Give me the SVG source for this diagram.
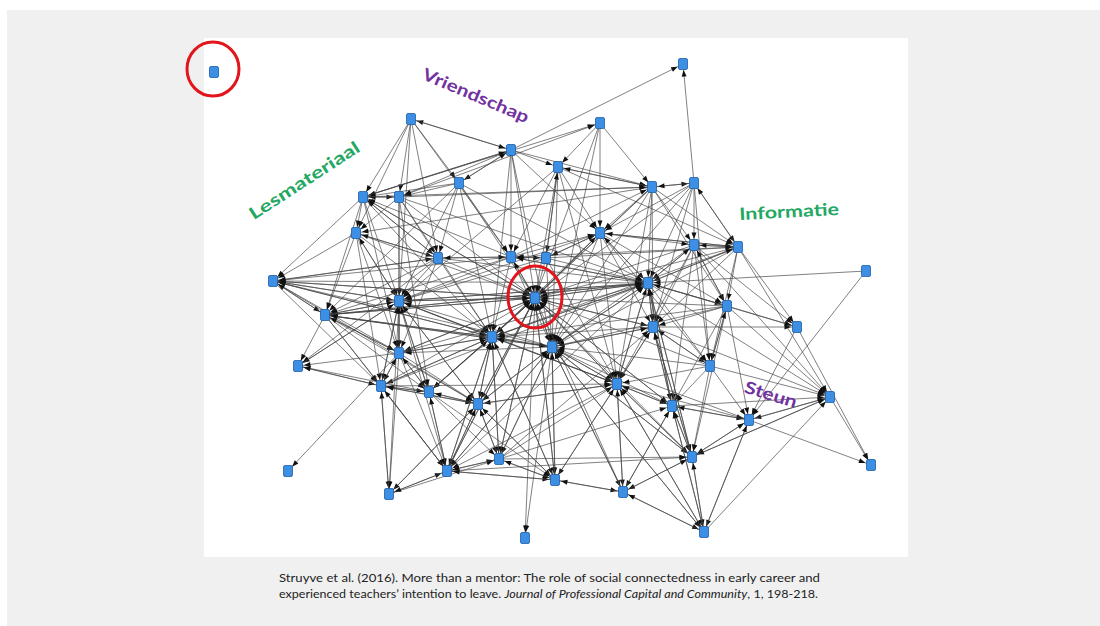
<svg xmlns="http://www.w3.org/2000/svg" width="1100" height="626" viewBox="0 0 1100 626">
  <style>
    .page{fill:#f0f0f0}
    .panel{fill:#ffffff}
    .e path{stroke:#454545;stroke-width:.68;fill:none;marker-end:url(#arr)}
    .n rect{fill:#3d8fe4;stroke:#1d5ea8;stroke-width:.8}
    .ring{fill:none;stroke:#e2151c;stroke-width:3}
    .lbl{font-family:Lato,"Open Sans","Liberation Sans",sans-serif;font-weight:bold;font-size:17px;text-anchor:middle;dominant-baseline:central}
    .green{fill:#22a862}
    .purple{fill:#7131a0}
    .cap{font-family:Lato,"Liberation Sans",sans-serif;font-size:11.5px;fill:#222}
  </style>
  <defs>
    <!-- arrowhead stops short of the node centre so it sits at the node edge -->
    <marker id="arr" markerUnits="userSpaceOnUse" markerWidth="14" markerHeight="6" refX="12.5" refY="2.5" orient="auto" overflow="visible">
      <path d="M0,0 L6.5,2.5 L0,5 z" fill="#111"/>
    </marker>
  </defs>

  <rect class="page" x="7" y="10" width="1093" height="616"/>
  <rect class="panel" x="204" y="38" width="704" height="519"/>

  <g id="connectors" class="e">
    <path d="M511 150L683 64"/><path d="M694 183L683 64"/>
    <path d="M511 150L411 119"/><path d="M411 119L511 150"/><path d="M411 119L363 197"/><path d="M411 119L399 197"/><path d="M411 119L399 301"/><path d="M411 119L459 183"/><path d="M411 119L511 257"/><path d="M411 119L438 258"/><path d="M411 119L356 233"/>
    <path d="M600 123L600 233"/><path d="M600 123L558 167"/><path d="M600 123L652 187"/><path d="M363 197L600 123"/><path d="M399 197L600 123"/><path d="M600 123L552 347"/><path d="M600 123L535 298"/>
    <path d="M511 150L558 167"/><path d="M511 150L652 187"/><path d="M511 150L363 197"/><path d="M511 150L399 197"/><path d="M511 150L459 183"/><path d="M511 150L511 257"/><path d="M511 150L600 233"/><path d="M511 150L492 337"/><path d="M511 150L552 347"/><path d="M511 150L535 298"/><path d="M363 197L511 150"/><path d="M459 183L511 150"/>
    <path d="M558 167L652 187"/><path d="M652 187L558 167"/><path d="M558 167L600 233"/><path d="M558 167L511 257"/><path d="M558 167L546 258"/><path d="M558 167L535 298"/><path d="M558 167L552 347"/><path d="M558 167L738 247"/><path d="M558 167L617 384"/><path d="M558 167L399 301"/>
    <path d="M459 183L363 197"/><path d="M459 183L399 197"/><path d="M459 183L438 258"/><path d="M459 183L511 257"/><path d="M459 183L399 301"/><path d="M459 183L492 337"/><path d="M459 183L648 283"/><path d="M459 183L535 298"/><path d="M459 183L325 315"/>
    <path d="M652 187L694 183"/><path d="M694 183L652 187"/><path d="M652 187L600 233"/><path d="M652 187L694 245"/><path d="M652 187L738 247"/><path d="M652 187L648 283"/><path d="M652 187L535 298"/><path d="M652 187L727 306"/><path d="M652 187L653 327"/><path d="M652 187L492 337"/><path d="M652 187L552 347"/><path d="M652 187L617 384"/><path d="M652 187L356 233"/>
    <path d="M694 183L694 245"/><path d="M694 183L738 247"/><path d="M694 183L600 233"/><path d="M694 183L648 283"/><path d="M694 183L535 298"/><path d="M694 183L653 327"/><path d="M694 183L552 347"/><path d="M694 183L710 366"/><path d="M738 247L694 183"/>
    <path d="M363 197L399 197"/><path d="M399 197L363 197"/><path d="M363 197L356 233"/><path d="M363 197L273 281"/><path d="M363 197L438 258"/><path d="M363 197L399 301"/><path d="M363 197L325 315"/><path d="M363 197L492 337"/><path d="M363 197L535 298"/><path d="M363 197L399 353"/><path d="M363 197L652 187"/>
    <path d="M399 197L356 233"/><path d="M399 197L438 258"/><path d="M399 197L399 301"/><path d="M399 197L492 337"/><path d="M399 197L535 298"/><path d="M399 197L648 283"/><path d="M399 197L652 187"/><path d="M399 197L399 353"/><path d="M399 197L429 392"/>
    <path d="M356 233L273 281"/><path d="M356 233L325 315"/><path d="M356 233L438 258"/><path d="M356 233L399 301"/><path d="M356 233L535 298"/><path d="M356 233L399 353"/><path d="M356 233L381 386"/><path d="M356 233L492 337"/>
    <path d="M600 233L694 245"/><path d="M600 233L738 247"/><path d="M600 233L648 283"/><path d="M600 233L535 298"/><path d="M600 233L546 258"/><path d="M600 233L653 327"/><path d="M600 233L727 306"/><path d="M600 233L552 347"/><path d="M600 233L617 384"/><path d="M600 233L399 301"/><path d="M600 233L492 337"/><path d="M600 233L710 366"/>
    <path d="M694 245L738 247"/><path d="M694 245L648 283"/><path d="M694 245L727 306"/><path d="M694 245L653 327"/><path d="M694 245L535 298"/><path d="M694 245L552 347"/><path d="M694 245L672 406"/><path d="M694 245L830 397"/><path d="M694 245L710 366"/><path d="M694 245L617 384"/><path d="M694 245L797 327"/>
    <path d="M738 247L694 245"/><path d="M738 247L648 283"/><path d="M738 247L535 298"/><path d="M738 247L727 306"/><path d="M738 247L653 327"/><path d="M738 247L797 327"/><path d="M738 247L552 347"/><path d="M738 247L710 366"/><path d="M738 247L830 397"/><path d="M738 247L600 233"/><path d="M738 247L511 257"/><path d="M738 247L492 337"/>
    <path d="M273 281L438 258"/><path d="M273 281L648 283"/><path d="M273 281L399 301"/><path d="M273 281L325 315"/><path d="M273 281L399 353"/><path d="M273 281L535 298"/><path d="M273 281L478 404"/><path d="M273 281L381 386"/><path d="M273 281L492 337"/>
    <path d="M438 258L273 281"/><path d="M511 257L273 281"/><path d="M535 298L273 281"/><path d="M399 301L273 281"/><path d="M325 315L273 281"/><path d="M492 337L273 281"/><path d="M552 347L273 281"/>
    <path d="M438 258L511 257"/><path d="M511 257L438 258"/><path d="M438 258L399 301"/><path d="M438 258L325 315"/><path d="M438 258L399 353"/><path d="M438 258L535 298"/><path d="M438 258L648 283"/><path d="M438 258L492 337"/><path d="M438 258L298 366"/><path d="M438 258L356 233"/><path d="M438 258L363 197"/>
    <path d="M511 257L546 258"/><path d="M546 258L511 257"/><path d="M511 257L535 298"/><path d="M511 257L648 283"/><path d="M511 257L492 337"/><path d="M511 257L552 347"/><path d="M511 257L325 315"/><path d="M511 257L399 301"/><path d="M511 257L363 197"/><path d="M511 257L600 233"/><path d="M511 257L652 187"/>
    <path d="M546 258L535 298"/><path d="M546 258L648 283"/><path d="M546 258L399 301"/><path d="M546 258L552 347"/><path d="M546 258L617 384"/><path d="M546 258L600 233"/><path d="M546 258L558 167"/><path d="M546 258L738 247"/>
    <path d="M866 271L648 283"/><path d="M866 271L749 420"/>
    <path d="M648 283L535 298"/><path d="M648 283L399 301"/><path d="M648 283L325 315"/><path d="M648 283L492 337"/><path d="M648 283L552 347"/><path d="M648 283L653 327"/><path d="M648 283L727 306"/><path d="M648 283L710 366"/><path d="M648 283L617 384"/><path d="M648 283L672 406"/><path d="M648 283L692 457"/><path d="M648 283L797 327"/><path d="M648 283L830 397"/><path d="M648 283L600 233"/><path d="M648 283L694 245"/><path d="M648 283L738 247"/><path d="M648 283L511 257"/>
    <path d="M535 298L399 301"/><path d="M535 298L325 315"/><path d="M535 298L492 337"/><path d="M535 298L552 347"/><path d="M535 298L617 384"/><path d="M535 298L478 404"/><path d="M535 298L429 392"/><path d="M535 298L648 283"/><path d="M535 298L363 197"/><path d="M535 298L511 257"/><path d="M535 298L447 471"/><path d="M535 298L555 480"/><path d="M535 298L525 538"/><path d="M535 298L653 327"/><path d="M535 298L499 459"/><path d="M535 298L672 406"/><path d="M535 298L399 353"/><path d="M535 298L600 233"/>
    <path d="M399 301L325 315"/><path d="M399 301L492 337"/><path d="M399 301L399 353"/><path d="M399 301L298 366"/><path d="M399 301L381 386"/><path d="M399 301L429 392"/><path d="M399 301L535 298"/><path d="M399 301L648 283"/><path d="M399 301L478 404"/><path d="M399 301L447 471"/><path d="M399 301L389 494"/><path d="M399 301L617 384"/><path d="M399 301L356 233"/>
    <path d="M325 315L399 353"/><path d="M325 315L381 386"/><path d="M325 315L478 404"/><path d="M325 315L492 337"/><path d="M325 315L535 298"/><path d="M325 315L648 283"/><path d="M325 315L298 366"/><path d="M325 315L429 392"/><path d="M325 315L399 301"/><path d="M325 315L552 347"/><path d="M325 315L447 471"/>
    <path d="M492 337L325 315"/><path d="M552 347L325 315"/><path d="M399 353L325 315"/>
    <path d="M727 306L653 327"/><path d="M727 306L797 327"/><path d="M727 306L710 366"/><path d="M727 306L830 397"/><path d="M727 306L749 420"/><path d="M727 306L535 298"/><path d="M727 306L552 347"/><path d="M727 306L648 283"/><path d="M727 306L672 406"/><path d="M727 306L692 457"/><path d="M727 306L694 245"/><path d="M727 306L492 337"/>
    <path d="M653 327L797 327"/><path d="M653 327L535 298"/><path d="M653 327L552 347"/><path d="M653 327L617 384"/><path d="M653 327L672 406"/><path d="M653 327L710 366"/><path d="M653 327L648 283"/><path d="M653 327L692 457"/><path d="M653 327L492 337"/><path d="M653 327L830 397"/>
    <path d="M797 327L871 465"/><path d="M797 327L749 420"/>
    <path d="M492 337L535 298"/><path d="M492 337L552 347"/><path d="M492 337L399 353"/><path d="M492 337L381 386"/><path d="M492 337L429 392"/><path d="M492 337L478 404"/><path d="M492 337L447 471"/><path d="M492 337L499 459"/><path d="M492 337L555 480"/><path d="M492 337L617 384"/><path d="M492 337L648 283"/><path d="M492 337L399 301"/>
    <path d="M552 347L535 298"/><path d="M552 347L492 337"/><path d="M552 347L617 384"/><path d="M552 347L672 406"/><path d="M552 347L555 480"/><path d="M552 347L499 459"/><path d="M552 347L447 471"/><path d="M552 347L692 457"/><path d="M552 347L623 492"/><path d="M552 347L525 538"/><path d="M552 347L478 404"/><path d="M552 347L648 283"/><path d="M552 347L653 327"/><path d="M552 347L399 301"/><path d="M552 347L399 353"/><path d="M552 347L704 532"/>
    <path d="M399 353L381 386"/><path d="M399 353L429 392"/><path d="M399 353L478 404"/><path d="M399 353L288 471"/><path d="M399 353L389 494"/><path d="M399 353L447 471"/><path d="M399 353L298 366"/><path d="M399 353L399 301"/><path d="M399 353L535 298"/><path d="M399 353L492 337"/><path d="M399 353L648 283"/>
    <path d="M298 366L399 301"/><path d="M298 366L381 386"/>
    <path d="M710 366L672 406"/><path d="M710 366L830 397"/><path d="M710 366L749 420"/><path d="M710 366L617 384"/><path d="M710 366L692 457"/><path d="M710 366L552 347"/><path d="M710 366L535 298"/><path d="M710 366L653 327"/><path d="M710 366L727 306"/>
    <path d="M381 386L429 392"/><path d="M381 386L478 404"/><path d="M381 386L389 494"/><path d="M381 386L447 471"/><path d="M381 386L298 366"/><path d="M381 386L399 353"/><path d="M381 386L492 337"/><path d="M381 386L399 301"/><path d="M381 386L535 298"/><path d="M381 386L648 283"/><path d="M381 386L617 384"/>
    <path d="M429 392L478 404"/><path d="M429 392L447 471"/><path d="M429 392L499 459"/><path d="M429 392L298 366"/><path d="M429 392L381 386"/><path d="M429 392L399 353"/><path d="M429 392L492 337"/><path d="M429 392L399 301"/><path d="M429 392L535 298"/><path d="M429 392L555 480"/>
    <path d="M617 384L672 406"/><path d="M617 384L692 457"/><path d="M617 384L623 492"/><path d="M617 384L704 532"/><path d="M617 384L555 480"/><path d="M617 384L749 420"/><path d="M617 384L535 298"/><path d="M617 384L648 283"/><path d="M617 384L552 347"/><path d="M617 384L492 337"/><path d="M617 384L653 327"/><path d="M617 384L478 404"/><path d="M617 384L447 471"/>
    <path d="M478 404L447 471"/><path d="M478 404L499 459"/><path d="M478 404L555 480"/><path d="M478 404L389 494"/><path d="M478 404L429 392"/><path d="M478 404L381 386"/><path d="M478 404L492 337"/><path d="M478 404L535 298"/><path d="M478 404L399 301"/><path d="M478 404L617 384"/><path d="M478 404L552 347"/>
    <path d="M672 406L749 420"/><path d="M672 406L692 457"/><path d="M672 406L623 492"/><path d="M672 406L704 532"/><path d="M672 406L617 384"/><path d="M672 406L648 283"/><path d="M672 406L535 298"/><path d="M672 406L653 327"/><path d="M672 406L830 397"/>
    <path d="M830 397L871 465"/><path d="M830 397L692 457"/><path d="M830 397L749 420"/>
    <path d="M749 420L871 465"/><path d="M749 420L830 397"/><path d="M749 420L692 457"/><path d="M749 420L704 532"/><path d="M749 420L672 406"/><path d="M749 420L552 347"/>
    <path d="M389 494L447 471"/><path d="M389 494L499 459"/><path d="M389 494L381 386"/><path d="M389 494L478 404"/>
    <path d="M447 471L499 459"/><path d="M447 471L555 480"/><path d="M447 471L478 404"/><path d="M447 471L429 392"/><path d="M447 471L492 337"/><path d="M447 471L535 298"/><path d="M447 471L552 347"/><path d="M447 471L389 494"/><path d="M447 471L381 386"/><path d="M447 471L692 457"/><path d="M447 471L648 283"/>
    <path d="M499 459L447 471"/><path d="M499 459L555 480"/><path d="M499 459L478 404"/><path d="M499 459L492 337"/><path d="M499 459L552 347"/><path d="M499 459L535 298"/><path d="M499 459L617 384"/><path d="M499 459L692 457"/><path d="M499 459L653 327"/><path d="M499 459L672 406"/>
    <path d="M555 480L623 492"/><path d="M555 480L447 471"/><path d="M555 480L499 459"/><path d="M555 480L552 347"/><path d="M555 480L535 298"/><path d="M555 480L617 384"/><path d="M555 480L478 404"/><path d="M555 480L492 337"/>
    <path d="M692 457L623 492"/><path d="M692 457L704 532"/><path d="M692 457L749 420"/><path d="M692 457L830 397"/><path d="M692 457L672 406"/><path d="M692 457L617 384"/><path d="M692 457L552 347"/><path d="M692 457L653 327"/><path d="M692 457L648 283"/><path d="M692 457L535 298"/>
    <path d="M623 492L692 457"/><path d="M623 492L555 480"/><path d="M623 492L704 532"/><path d="M623 492L617 384"/><path d="M623 492L672 406"/><path d="M623 492L552 347"/><path d="M623 492L535 298"/>
    <path d="M704 532L692 457"/><path d="M704 532L749 420"/><path d="M704 532L830 397"/><path d="M704 532L623 492"/><path d="M704 532L617 384"/><path d="M704 532L672 406"/><path d="M704 532L552 347"/>
  </g>

  <g class="n">
    <g id="n1"><rect x="209.5" y="66.5" width="9" height="11" rx="1.5"/></g>
    <g id="n2"><rect x="678.5" y="58.5" width="9" height="11" rx="1.5"/></g>
    <g id="n3"><rect x="406.5" y="113.5" width="9" height="11" rx="1.5"/></g>
    <g id="n4"><rect x="595.5" y="117.5" width="9" height="11" rx="1.5"/></g>
    <g id="n5"><rect x="506.5" y="144.5" width="9" height="11" rx="1.5"/></g>
    <g id="n6"><rect x="553.5" y="161.5" width="9" height="11" rx="1.5"/></g>
    <g id="n7"><rect x="454.5" y="177.5" width="9" height="11" rx="1.5"/></g>
    <g id="n8"><rect x="647.5" y="181.5" width="9" height="11" rx="1.5"/></g>
    <g id="n9"><rect x="689.5" y="177.5" width="9" height="11" rx="1.5"/></g>
    <g id="n10"><rect x="358.5" y="191.5" width="9" height="11" rx="1.5"/></g>
    <g id="n11"><rect x="394.5" y="191.5" width="9" height="11" rx="1.5"/></g>
    <g id="n12"><rect x="351.5" y="227.5" width="9" height="11" rx="1.5"/></g>
    <g id="n13"><rect x="595.5" y="227.5" width="9" height="11" rx="1.5"/></g>
    <g id="n14"><rect x="689.5" y="239.5" width="9" height="11" rx="1.5"/></g>
    <g id="n15"><rect x="733.5" y="241.5" width="9" height="11" rx="1.5"/></g>
    <g id="n16"><rect x="268.5" y="275.5" width="9" height="11" rx="1.5"/></g>
    <g id="n17"><rect x="433.5" y="252.5" width="9" height="11" rx="1.5"/></g>
    <g id="n18"><rect x="506.5" y="251.5" width="9" height="11" rx="1.5"/></g>
    <g id="n19"><rect x="541.5" y="252.5" width="9" height="11" rx="1.5"/></g>
    <g id="n20"><rect x="861.5" y="265.5" width="9" height="11" rx="1.5"/></g>
    <g id="n21"><rect x="643.5" y="277.5" width="9" height="11" rx="1.5"/></g>
    <g id="n22"><rect x="530.5" y="292.5" width="9" height="11" rx="1.5"/></g>
    <g id="n23"><rect x="394.5" y="295.5" width="9" height="11" rx="1.5"/></g>
    <g id="n24"><rect x="320.5" y="309.5" width="9" height="11" rx="1.5"/></g>
    <g id="n25"><rect x="722.5" y="300.5" width="9" height="11" rx="1.5"/></g>
    <g id="n26"><rect x="648.5" y="321.5" width="9" height="11" rx="1.5"/></g>
    <g id="n27"><rect x="792.5" y="321.5" width="9" height="11" rx="1.5"/></g>
    <g id="n28"><rect x="487.5" y="331.5" width="9" height="11" rx="1.5"/></g>
    <g id="n29"><rect x="547.5" y="341.5" width="9" height="11" rx="1.5"/></g>
    <g id="n30"><rect x="394.5" y="347.5" width="9" height="11" rx="1.5"/></g>
    <g id="n31"><rect x="293.5" y="360.5" width="9" height="11" rx="1.5"/></g>
    <g id="n32"><rect x="705.5" y="360.5" width="9" height="11" rx="1.5"/></g>
    <g id="n33"><rect x="376.5" y="380.5" width="9" height="11" rx="1.5"/></g>
    <g id="n34"><rect x="424.5" y="386.5" width="9" height="11" rx="1.5"/></g>
    <g id="n35"><rect x="612.5" y="378.5" width="9" height="11" rx="1.5"/></g>
    <g id="n36"><rect x="473.5" y="398.5" width="9" height="11" rx="1.5"/></g>
    <g id="n37"><rect x="667.5" y="400.5" width="9" height="11" rx="1.5"/></g>
    <g id="n38"><rect x="825.5" y="391.5" width="9" height="11" rx="1.5"/></g>
    <g id="n39"><rect x="744.5" y="414.5" width="9" height="11" rx="1.5"/></g>
    <g id="n40"><rect x="283.5" y="465.5" width="9" height="11" rx="1.5"/></g>
    <g id="n41"><rect x="384.5" y="488.5" width="9" height="11" rx="1.5"/></g>
    <g id="n42"><rect x="442.5" y="465.5" width="9" height="11" rx="1.5"/></g>
    <g id="n43"><rect x="494.5" y="453.5" width="9" height="11" rx="1.5"/></g>
    <g id="n44"><rect x="550.5" y="474.5" width="9" height="11" rx="1.5"/></g>
    <g id="n45"><rect x="687.5" y="451.5" width="9" height="11" rx="1.5"/></g>
    <g id="n46"><rect x="618.5" y="486.5" width="9" height="11" rx="1.5"/></g>
    <g id="n47"><rect x="866.5" y="459.5" width="9" height="11" rx="1.5"/></g>
    <g id="n48"><rect x="699.5" y="526.5" width="9" height="11" rx="1.5"/></g>
    <g id="n49"><rect x="520.5" y="532.5" width="9" height="11" rx="1.5"/></g>
  </g>

  <!-- highlight rings -->
  <ellipse class="ring" cx="213" cy="69" rx="26" ry="27"/>
  <ellipse class="ring" cx="535" cy="297" rx="27" ry="31"/>

  <!-- relation type labels -->
  <text class="lbl purple" transform="translate(476 95) rotate(23)" textLength="114" lengthAdjust="spacingAndGlyphs">Vriendschap</text>
  <text class="lbl green" transform="translate(304 180) rotate(-33)" textLength="128" lengthAdjust="spacingAndGlyphs">Lesmateriaal</text>
  <text class="lbl green" transform="translate(789 211) rotate(-3)" textLength="100" lengthAdjust="spacingAndGlyphs">Informatie</text>
  <text class="lbl purple" transform="translate(771 394) rotate(17)" textLength="54" lengthAdjust="spacingAndGlyphs">Steun</text>

  <!-- source reference -->
  <text class="cap" x="279" y="582" textLength="541" lengthAdjust="spacingAndGlyphs">Struyve et al. (2016). More than a mentor: The role of social connectedness in early career and</text>
  <text class="cap" x="279" y="598" textLength="539" lengthAdjust="spacingAndGlyphs">experienced teachers’ intention to leave. <tspan font-style="italic">Journal of Professional Capital and Community</tspan>, 1, 198-218.</text>
</svg>
